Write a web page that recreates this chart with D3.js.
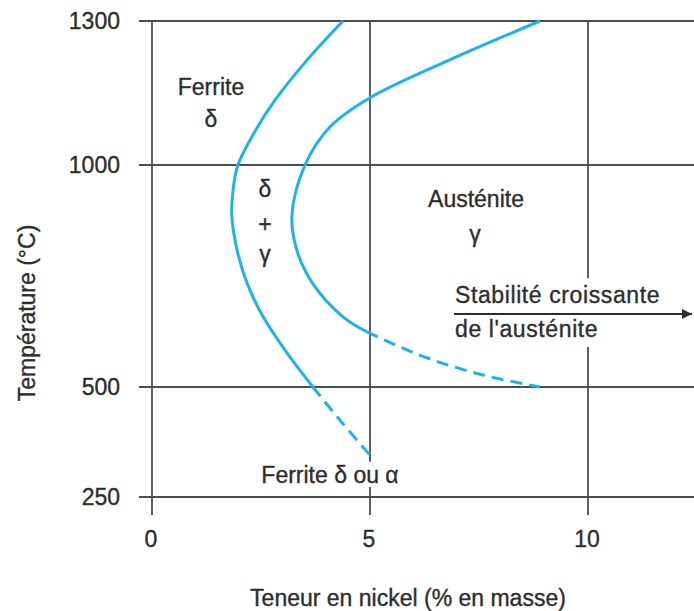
<!DOCTYPE html>
<html>
<head>
<meta charset="utf-8">
<script src="https://cdn.jsdelivr.net/npm/d3@7/dist/d3.min.js"></script>
<style>
  html, body { margin: 0; padding: 0; background: #fff; }
  svg { display: block; }
  text { font-family: "Liberation Sans", Arial, sans-serif; fill: #2d2d2d; stroke: #2d2d2d; stroke-width: 0.35px; }
</style>
</head>
<body>
<svg id="chart" width="694" height="611"></svg>
<script>
// ---- data (nickel % , temperature °C) ----
const xTicks = [0, 5, 10];
const yTicks = [250, 500, 1000, 1300];

const ferriteSolidNi = [4.38, 3.56, 2.82, 2.38, 1.97, 1.86, 1.83, 1.95, 2.18, 2.55, 3.05, 3.69];
const ferriteSolidT  = [1300, 1219, 1135, 1073, 1000, 944, 887, 809, 734, 658, 583, 500];
const ferriteDashNi  = [3.69, 4.35, 5.0];
const ferriteDashT   = [500, 420, 345];

const austSolidNi = [8.90, 6.83, 5.0, 4.08, 3.51, 3.21, 3.32, 3.68, 4.38, 4.93];
const austSolidT  = [1300, 1219, 1140, 1079, 1000, 887, 809, 734, 658, 624];
const austDashNi  = [4.93, 5.69, 6.44, 7.59, 8.90];
const austDashT   = [624, 590, 561, 527, 500];

// ---- scales ----
const x = d3.scaleLinear().domain([0, 10]).range([152, 588]);
const y = d3.scaleLinear().domain([250, 500, 1000, 1300]).range([497, 387, 165, 21]);

const svg = d3.select("#chart");
const W = 694;
const gridColor = "#4d4d4d";
const curveColor = "#1db3e6";
const fs = 23;

// horizontal grid lines (extend left as ticks)
svg.append("g").selectAll("line").data(yTicks).join("line")
  .attr("x1", x(0) - 13).attr("x2", W)
  .attr("y1", d => y(d)).attr("y2", d => y(d))
  .attr("stroke", gridColor).attr("stroke-width", 2);

// vertical grid lines with gaps around labels (gaps given in °C)
const vGaps = { 0: [], 5: [[330, 273]], 10: [[745, 590]] };
const bottom = y(250) + 18;
xTicks.forEach(t => {
  const segs = [];
  let top = y(1300);
  vGaps[t].forEach(g => { segs.push([top, y(g[0])]); top = y(g[1]); });
  segs.push([top, bottom]);
  svg.append("g").selectAll("line").data(segs).join("line")
    .attr("x1", x(t)).attr("x2", x(t))
    .attr("y1", d => d[0]).attr("y2", d => d[1])
    .attr("stroke", gridColor).attr("stroke-width", 1.8);
});

// tick labels
svg.append("g").selectAll("text").data(yTicks).join("text")
  .attr("x", 120).attr("y", d => y(d)).attr("dy", "0.35em")
  .attr("text-anchor", "end").attr("font-size", fs).text(d => d);
svg.append("g").selectAll("text").data(xTicks).join("text")
  .attr("x", d => x(d) - 1).attr("y", 547)
  .attr("text-anchor", "middle").attr("font-size", fs).text(d => d);

// axis titles
svg.append("text").attr("x", 408).attr("y", 606).attr("text-anchor", "middle")
  .attr("font-size", fs).text("Teneur en nickel (% en masse)");
svg.append("text").attr("transform", "translate(35,313) rotate(-90)")
  .attr("text-anchor", "middle").attr("font-size", fs).text("Température (°C)");

// curves
const line = d3.line().x(d => x(d[0])).y(d => y(d[1])).curve(d3.curveCatmullRom.alpha(0.5));
const zip = (a, b) => a.map((v, i) => [v, b[i]]);
const curves = [
  { pts: zip(ferriteSolidNi, ferriteSolidT), dash: null },
  { pts: zip(ferriteDashNi, ferriteDashT), dash: "12,7" },
  { pts: zip(austSolidNi, austSolidT), dash: null },
  { pts: zip(austDashNi, austDashT), dash: "12,7" }
];
svg.append("g").selectAll("path").data(curves).join("path")
  .attr("d", d => line(d.pts))
  .attr("fill", "none").attr("stroke", curveColor).attr("stroke-width", 3)
  .attr("stroke-dasharray", d => d.dash);

// region labels
const labels = [
  { t: "Ferrite", x: 211, y: 95 },
  { t: "δ", x: 211, y: 127 },
  { t: "δ", x: 265, y: 197 },
  { t: "+", x: 265, y: 232 },
  { t: "γ", x: 265, y: 262 },
  { t: "Austénite", x: 476, y: 207 },
  { t: "γ", x: 475, y: 242 },
  { t: "Ferrite δ ou α", x: 330, y: 483 }
];
svg.append("g").selectAll("text").data(labels).join("text")
  .attr("x", d => d.x).attr("y", d => d.y).attr("text-anchor", "middle")
  .attr("font-size", fs).text(d => d.t);

svg.append("text").attr("x", 455).attr("y", 303).attr("font-size", fs)
  .attr("letter-spacing", 0.6).text("Stabilité croissante");
svg.append("text").attr("x", 455).attr("y", 337).attr("font-size", fs)
  .attr("letter-spacing", 0.6).text("de l'austénite");

// arrow
svg.append("defs").append("marker").attr("id", "ah")
  .attr("viewBox", "0 0 10 10").attr("refX", 10).attr("refY", 5)
  .attr("markerWidth", 16).attr("markerHeight", 10).attr("markerUnits", "userSpaceOnUse")
  .attr("orient", "auto")
  .append("path").attr("d", "M0,0 L10,5 L0,10 Z").attr("fill", "#2d2d2d");
svg.append("line").attr("x1", 454).attr("x2", 692).attr("y1", 314).attr("y2", 314)
  .attr("stroke", "#2d2d2d").attr("stroke-width", 1.8).attr("marker-end", "url(#ah)");
</script>
</body>
</html>
